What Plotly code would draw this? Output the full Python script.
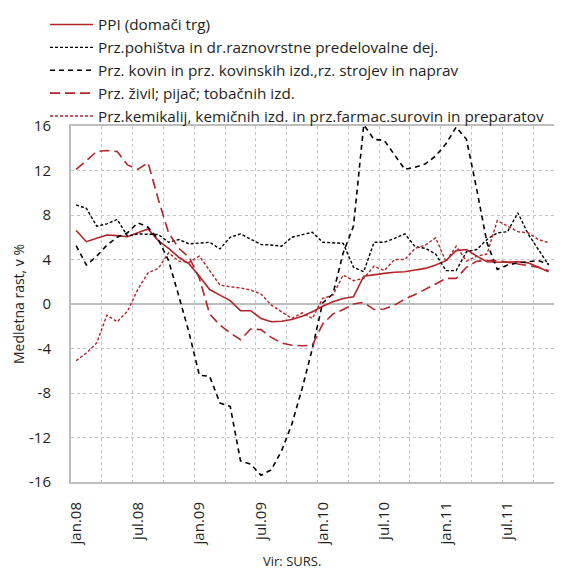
import plotly.graph_objects as go

# month index 0 = jan.08 ... 46 = nov.11
month_labels = [f"{m}.{y:02d}" for y in (8, 9, 10, 11)
                for m in ["jan", "feb", "mar", "apr", "maj", "jun", "jul", "avg", "sep", "okt", "nov", "dec"]][:47]
tick_positions = [0, 6, 12, 18, 24, 30, 36, 42]
tick_labels = ["jan.08", "jul.08", "jan.09", "jul.09", "jan.10", "jul.10", "jan.11", "jul.11"]
y_ticks = [-16, -12, -8, -4, 0, 4, 8, 12, 16]
y_tick_labels = ["-16", "-12", "-8", "-4", "0", "4", "8", "12", "16"]

ppi = [6.6, 5.6, 5.9, 6.2, 6.15, 6.05, 6.4, 6.75, 5.7, 5.0,
       4.2, 3.6, 2.5, 1.3, 0.8, 0.3, -0.6, -0.6, -1.3, -1.6,
       -1.55, -1.4, -1.1, -0.7, -0.2, 0.2, 0.5, 0.65, 2.5, 2.65,
       2.75, 2.85, 2.9, 3.05, 3.2, 3.5, 3.9, 4.8, 4.9, 4.3,
       3.8, 3.75, 3.75, 3.8, 3.7, 3.3, 2.9]
furniture = [8.9, 8.6, 7.0, 7.2, 7.6, 6.1, 6.3, 6.3, 6.25, 5.55,
             5.8, 5.4, 5.5, 5.55, 4.95, 6.0, 6.3, 5.8, 5.35, 5.3,
             5.2, 6.0, 6.2, 6.45, 5.55, 5.5, 5.45, 3.3, 2.9, 5.55,
             5.55, 5.9, 6.3, 5.15, 5.0, 4.5, 3.0, 3.0, 4.7, 4.9,
             5.8, 6.4, 6.5, 8.2, 6.3, 4.9, 3.5]
metal = [5.25, 3.5, 4.3, 5.3, 6.0, 6.4, 7.3, 6.9, 5.8, 3.9,
         0.7, -2.6, -6.4, -6.5, -8.9, -9.2, -14.1, -14.4, -15.4, -14.9,
         -13.2, -10.8, -7.6, -4.0, 0.1, 0.9, 4.6, 7.0, 16.1, 14.8,
         14.7, 13.4, 12.1, 12.3, 12.6, 13.3, 14.4, 15.9, 14.8, 10.3,
         5.5, 3.1, 3.5, 3.7, 3.8, 3.9, 3.6]
food = [12.1, 12.9, 13.7, 13.8, 13.7, 12.5, 12.1, 12.7, 9.4, 6.4,
        5.0, 4.2, 2.3, -0.9, -1.9, -2.6, -3.2, -2.25, -2.3, -3.0,
        -3.5, -3.7, -3.75, -3.7, -1.8, -0.9, -0.5, 0.0, 0.15, -0.5,
        -0.45, -0.1, 0.45, 0.85, 1.3, 1.8, 2.3, 2.3, 3.3, 3.85,
        3.9, 3.9, 3.75, 3.6, 3.5, 3.3, 3.0]
chemicals = [-5.1, -4.4, -3.5, -1.0, -1.6, -0.65, 1.3, 2.8, 3.2, 4.6,
             3.85, 3.75, 4.3, 2.95, 1.7, 1.55, 1.45, 1.25, 0.9, -0.1,
             -0.7, -1.3, -0.8, -1.3, 0.5, 0.8, 2.6, 2.1, 2.3, 3.4,
             3.0, 4.0, 4.0, 5.0, 5.3, 5.95, 3.8, 5.2, 3.85, 4.3,
             4.5, 7.5, 7.0, 6.5, 6.4, 5.8, 5.5]

names = ["PPI (domači trg)",
         "Prz.pohištva in dr.raznovrstne predelovalne dej.",
         "Prz. kovin in prz. kovinskih izd.,rz. strojev in naprav",
         "Prz. živil; pijač; tobačnih izd.",
         "Prz.kemikalij, kemičnih izd. in prz.farmac.surovin in preparatov"]

RED = "#B2252B"
BLACK = "#000000"
FONT = "Open Sans"
TXT = "#231F20"
x = list(range(len(month_labels)))

styles = [
    dict(color=RED, width=1.6, dash="solid"),
    dict(color=BLACK, width=1.4, dash="3px,2px"),
    dict(color=BLACK, width=1.6, dash="5px,4px"),
    dict(color=RED, width=1.6, dash="10px,5px"),
    dict(color=RED, width=1.4, dash="3px,2px"),
]

fig = go.Figure()
for name, vals, st in zip(names, [ppi, furniture, metal, food, chemicals], styles):
    fig.add_trace(go.Scatter(x=x, y=vals, mode="lines", name=name, line=st,
                             customdata=month_labels, hovertemplate="%{customdata}: %{y}<extra></extra>"))

grid = "#C4C4C4"
frame = "#BDBDBD"
# the page body adds an 8 px offset, so the figure is 8 px smaller than the window
W, H = 554, 565
ML, MR, MT, MB = 63, 0, 118, 91
PW, PH = W - ML - MR, H - MT - MB

fig.update_layout(
    width=W, height=H,
    margin=dict(l=ML, r=MR, t=MT, b=MB, autoexpand=False),
    paper_bgcolor="white", plot_bgcolor="white",
    font=dict(family=FONT, size=15, color=TXT),
    showlegend=True,
    legend=dict(xref="container", yref="container", x=37 / W, y=1.0 + 3 / H, xanchor="left", yanchor="top",
                font=dict(family=FONT, size=15.3, color=TXT),
                bgcolor="rgba(0,0,0,0)", itemwidth=43, tracegroupgap=0),
    xaxis=dict(range=[-0.5, 47.3], tickmode="array", tickvals=tick_positions, ticktext=tick_labels,
               tickangle=-90, ticks="", showgrid=False, zeroline=False, automargin=False,
               showline=True, mirror=True, linecolor=frame, linewidth=2,
               tickfont=dict(family=FONT, size=15, color=TXT), ticklabelstandoff=12,
               minor=dict(tickmode="linear", tick0=-0.5, dtick=3, showgrid=True,
                          gridcolor=grid, griddash="dot", gridwidth=1, ticks="")),
    yaxis=dict(range=[-16, 16], tickmode="array", tickvals=y_ticks, ticktext=y_tick_labels, ticks="",
               showgrid=True, gridcolor=grid, griddash="dot", gridwidth=1, automargin=False,
               zeroline=True, zerolinecolor=frame, zerolinewidth=2,
               showline=True, mirror=True, linecolor=frame, linewidth=2,
               tickfont=dict(family=FONT, size=15, color=TXT), ticklabelstandoff=15),
    annotations=[
        dict(text="Medletna rast, v %", xref="paper", yref="paper", x=(10 - ML) / PW, y=0.5,
             textangle=-90, showarrow=False, xanchor="center", yanchor="middle",
             font=dict(family=FONT, size=14, color=TXT)),
        dict(text="Vir: SURS.", xref="paper", yref="paper", x=(284 - ML) / PW,
             y=(H - MB - 553) / PH,
             showarrow=False, xanchor="center", yanchor="middle",
             font=dict(family=FONT, size=13, color=TXT)),
    ],
)
fig.write_html("out.html")
